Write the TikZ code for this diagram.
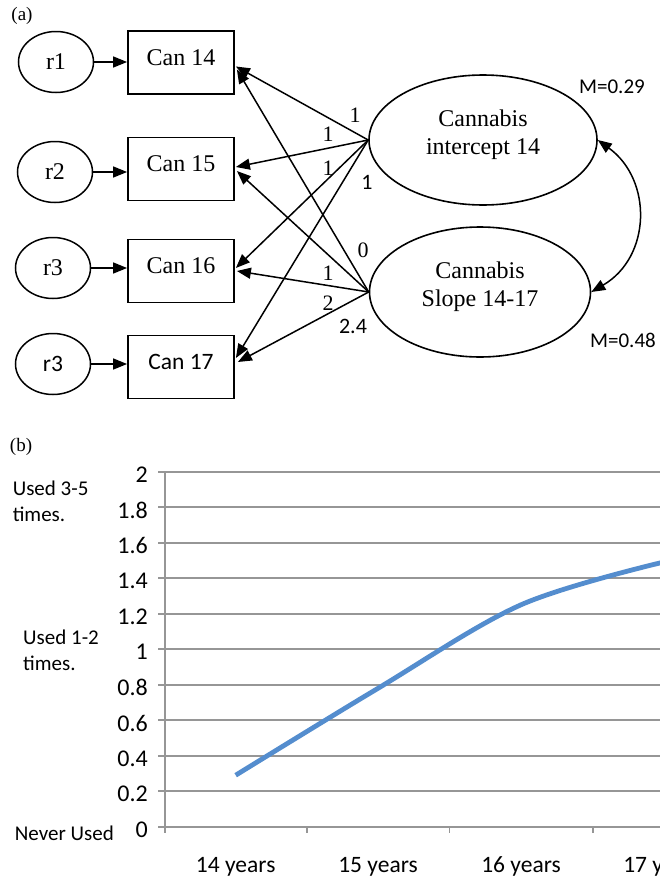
\documentclass[tikz,border=0pt]{standalone}
\usepackage{fontspec}
\setmainfont{Liberation Serif}
\newfontfamily\calib{Carlito}
\usetikzlibrary{shapes.geometric,arrows.meta,calc}
\definecolor{gridgray}{RGB}{150,150,150}
\definecolor{seriesblue}{RGB}{84,141,206}
\begin{document}
\begin{tikzpicture}[x=1pt,y=-1pt,
  serif/.style={font=\fontsize{24}{28}\selectfont},
  sansf/.style={font=\calib\fontsize{23.5}{27}\selectfont},
  labserif/.style={font=\fontsize{22}{26}\selectfont,inner sep=0pt},
  labsans/.style={font=\calib\fontsize{22}{26}\selectfont,inner sep=0pt},
  resid/.style={draw,ellipse,line width=1.5pt,minimum width=75pt,minimum height=61pt,inner sep=0pt},
  obs/.style={draw,rectangle,line width=1.8pt,minimum width=106pt,minimum height=63pt,inner sep=0pt,text height=17pt,text depth=12pt},
  latent/.style={draw,ellipse,line width=1.6pt,inner sep=0pt,align=center,text depth=15pt},
  tip/.style={-{Triangle[length=14pt,width=11pt]}},
  pathline/.style={line width=1.5pt,tip},
  gridln/.style={draw=gridgray,line width=1.9pt},
  ytick/.style={font=\calib\fontsize{24}{28}\selectfont,anchor=east,inner sep=0pt},
  xcat/.style={font=\calib\fontsize{23.5}{28}\selectfont,inner sep=0pt},
  sidelab/.style={font=\calib\fontsize{21}{25}\selectfont,anchor=west,inner sep=0pt},
  panel/.style={font=\fontsize{19}{22}\selectfont,inner sep=0pt}]
\useasboundingbox (0,0) rectangle (660,881);

% ---------- panel (a) ----------
\node[panel] (pa) at (22,16) {(a)};

\node[resid,serif] (r1) at (56,62) {r1};
\node[resid,serif] (r2) at (55,172) {r2};
\node[resid,serif] (r3) at (53,268) {r3};
\node[resid,sansf] (r4) at (53,364) {r3};

\node[obs,serif] (c14) at (181,62.5) {Can 14};
\node[obs,serif] (c15) at (181,169) {Can 15};
\node[obs,serif] (c16) at (181,271) {Can 16};
\node[obs,sansf] (c17) at (181,367) {Can 17};

\draw[pathline] (r1) -- (r1 -| c14.west);
\draw[pathline] (r2) -- (r2 -| c15.west);
\draw[pathline] (r3) -- (r3 -| c16.west);
\draw[pathline] (r4) -- (r4 -| c17.west);

\node[latent,serif,minimum width=228pt,minimum height=130pt] (int) at (483,140) {Cannabis\\intercept 14};
\node[latent,serif,minimum width=221pt,minimum height=130pt] (slp) at (480,292) {Cannabis\\Slope 14-17};

\coordinate (t14a) at ($(c14.east)+(1,4)$);
\coordinate (t14b) at ($(c14.east)+(2,7)$);
\coordinate (t15a) at ($(c15.east)+(1,-2)$);
\coordinate (t15b) at ($(c15.east)+(2,2)$);
\coordinate (t16a) at ($(c16.east)+(1,-3)$);
\coordinate (t16b) at ($(c16.east)+(2,0)$);
\coordinate (t17a) at ($(c17.east)+(1,-9)$);
\coordinate (t17b) at ($(c17.east)+(3,-5)$);

\draw[pathline] (int.west) -- (t14a);
\draw[pathline] (int.west) -- (t15a);
\draw[pathline] (int.west) -- (t16a);
\draw[pathline] (int.west) -- (t17a);
\draw[pathline] (slp.west) -- (t14b);
\draw[pathline] (slp.west) -- (t15b);
\draw[pathline] (slp.west) -- (t16b);
\draw[pathline] (slp.west) -- (t17b);

\node[labserif] (w1) at (355,115) {1};
\node[labserif] (w2) at (328,134) {1};
\node[labserif] (w3) at (328,168) {1};
\node[labsans]  (w4) at (367,182) {1};
\node[labserif] (w5) at (363,250) {0};
\node[labserif] (w6) at (328,273) {1};
\node[labserif] (w7) at (328,303) {2};
\node[labsans]  (w8) at (353,326) {2.4};

\draw[line width=1.5pt,{Triangle[length=14pt,width=11pt]}-{Triangle[length=14pt,width=11pt]}]
  (int.east) .. controls ($(int.east)+(55,40)$) and ($(slp.east)+(60,-35)$) .. (slp.east);

\node[labsans,font=\calib\fontsize{21}{25}\selectfont] (m1) at (612,87) {M=0.29};
\node[labsans,font=\calib\fontsize{21}{25}\selectfont] (m2) at (623,340) {M=0.48};

% ---------- panel (b) ----------
\node[panel] (pb) at (21,447) {(b)};

\begin{scope}
\clip (0,430) rectangle (660,881);
\foreach \k in {0,...,10} {
  \draw[gridln] (158,{826.7-35.5*\k}) -- (660,{826.7-35.5*\k});
}
\foreach \k/\t in {0/0,1/0.2,2/0.4,3/0.6,4/0.8,5/1,6/1.2,7/1.4,8/1.6,9/1.8,10/2} {
  \node[ytick] (yt\k) at (148,{829.7-35.5*\k}) {\t};
}
\draw[gridln] (165,471.7) -- (165,833);
\foreach \x in {307,449.5,592.6} { \draw[gridln] (\x,826.7) -- (\x,833); }

\node[xcat] (x14) at (235.7,866.7) {14 years};
\node[xcat] (x15) at (378,866.7) {15 years};
\node[xcat] (x16) at (521,866.7) {16 years};
\node[xcat] (x17) at (663,866.7) {17 years};

\draw[seriesblue,line width=4.8pt] plot[smooth,tension=0.55] coordinates
  {(235.7,775.2) (378,688.3) (521,604.8) (663,562.2)};
\end{scope}

\node[sidelab] (s1) at (12.6,488) {Used 3-5};
\node[sidelab] (s2) at (12.6,514) {times.};
\node[sidelab] (s3) at (23,637) {Used 1-2};
\node[sidelab] (s4) at (23,663) {times.};
\node[sidelab] (s5) at (14.7,833) {Never Used};
\end{tikzpicture}
\end{document}
